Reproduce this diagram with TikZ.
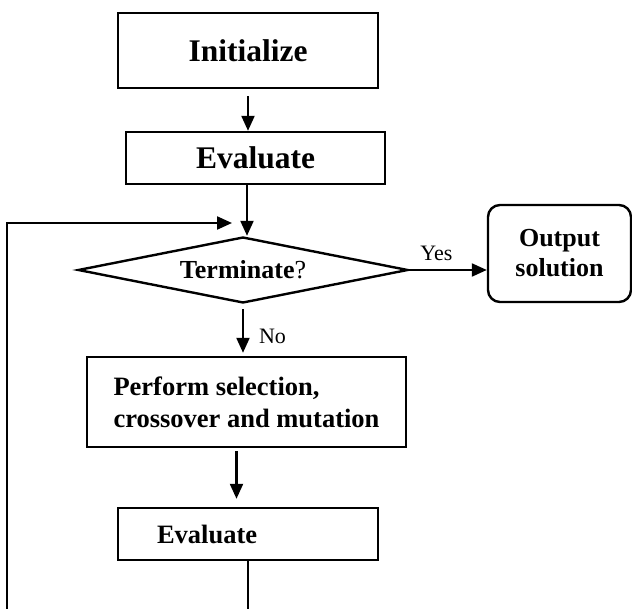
\documentclass[tikz,border=0pt]{standalone}
\usepackage{fontspec}
\setmainfont{Liberation Serif}
\usetikzlibrary{shapes.geometric}
\usetikzlibrary{arrows.meta}
\usetikzlibrary{calc}

\tikzset{
  box/.style={draw, line width=2.4pt, inner sep=0pt},
  arr/.style={line width=2.2pt, -{Triangle[length=15pt,width=13pt]}},
  lbl/.style={font=\fontsize{22}{24}\selectfont, inner sep=3pt},
  bigfont/.style={font=\bfseries\fontsize{31.5}{34}\selectfont},
  midfont/.style={font=\bfseries\fontsize{26.5}{32}\selectfont},
}

\begin{document}
\begin{tikzpicture}[x=1pt,y=-1pt]

  % frame of the picture
  \useasboundingbox (0,0) rectangle (632,609);
  \clip (0,0) rectangle (632,609);

  % start of the algorithm
  \node[box, bigfont, minimum width=260pt, minimum height=75pt] (init) at (248,50.5) {Initialize};
  \node[box, bigfont, minimum width=259pt, minimum height=52pt] (evalA) at (255.5,158) {Evaluate};

  % stopping test
  \node[box, diamond, aspect=5, minimum width=330pt, minimum height=66pt,
        font=\fontsize{26}{30}\selectfont] (term) at (243,270) {\textbf{Terminate}?};
  \node[box, rounded corners=12pt, minimum width=143pt, minimum height=97pt,
        align=center, font=\bfseries\fontsize{26}{30}\selectfont] (out) at (559.5,253.5) {Output\\solution};

  % genetic operators
  \node[box, midfont, minimum width=319pt, minimum height=90pt, align=left] (select) at (246.5,402)
    {Perform selection,\\crossover and mutation};
  \node[box, midfont, minimum height=52pt, text width=182pt, inner xsep=39pt, align=left] (evalB) at (248,534) {Evaluate};

  % end of the feedback loop
  \coordinate (loopL) at (7,223);
  \coordinate (loopE) at (232,223);

  % arrows
  \draw[arr, shorten <=7pt] (init.south) -- (init.south |- evalA.north);
  \draw[arr] ([xshift=4pt]term.north |- evalA.south) -- ([xshift=4pt]term.north);
  \draw[arr] (term.east) -- (term.east -| out.west)
    node[lbl, above=5pt, pos=0.35] {Yes};
  \draw[arr, shorten <=5pt, shorten >=3pt] (term.south) -- (term.south |- select.north)
    node[lbl, right=12pt, pos=0.62] {No};
  \draw[arr, shorten <=3pt, shorten >=8pt] ([xshift=-10pt]select.south) -- ([xshift=-10pt]select.south |- evalB.north);
  \draw[arr] (evalB.south) -- ++(0,60) -| (loopL) -- (loopE);

\end{tikzpicture}
\end{document}
